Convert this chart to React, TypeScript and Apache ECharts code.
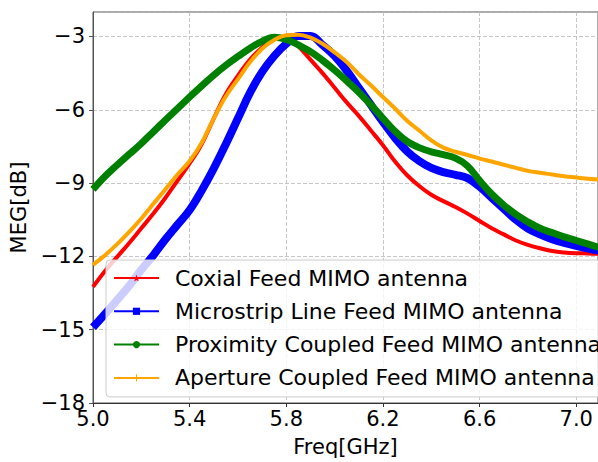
import React, { useEffect, useRef } from 'react';
import * as echarts from 'echarts';

const freq = [
  5.0, 5.05, 5.1, 5.15, 5.2, 5.25, 5.3, 5.35, 5.4, 5.45, 5.5, 5.55, 5.6, 5.65, 5.7, 5.75, 5.8, 5.85, 5.9, 5.95,
  6.0, 6.05, 6.1, 6.15, 6.2, 6.25, 6.3, 6.35, 6.4, 6.45, 6.5, 6.55, 6.6, 6.65, 6.7, 6.75, 6.8, 6.85, 6.9, 6.95,
  7.0, 7.05, 7.1,
];

const coxial = [
  -13.25, -12.6, -12.02, -11.45, -10.85, -10.25, -9.6, -8.9, -8.2, -7.4, -6.35, -5.35, -4.6, -3.95, -3.45, -3.1, -3.0, -3.4, -3.95, -4.5,
  -5.1, -5.7, -6.25, -6.85, -7.45, -8.12, -8.68, -9.12, -9.48, -9.74, -9.98, -10.25, -10.55, -10.85, -11.1, -11.35, -11.53, -11.67, -11.78, -11.84,
  -11.87, -11.88, -11.9,
];

const microstrip = [
  -14.9, -14.35, -13.78, -13.2, -12.55, -11.95, -11.3, -10.7, -10.1, -9.3, -8.4, -7.4, -6.35, -5.3, -4.45, -3.8, -3.3, -2.98, -2.98, -3.35,
  -3.8, -4.4, -5.1, -5.8, -6.5, -7.15, -7.7, -8.1, -8.38, -8.55, -8.66, -8.8, -9.15, -9.6, -10.05, -10.5, -10.86, -11.1, -11.3, -11.45,
  -11.57, -11.68, -11.78,
];

const proximity = [
  -9.26, -8.72, -8.26, -7.82, -7.38, -6.9, -6.42, -5.95, -5.48, -5.02, -4.58, -4.18, -3.82, -3.48, -3.2, -3.03, -3.12, -3.35, -3.62, -3.98,
  -4.38, -4.82, -5.28, -5.8, -6.35, -6.88, -7.3, -7.55, -7.72, -7.84, -7.98, -8.3, -8.9, -9.45, -9.9, -10.28, -10.59, -10.85, -11.03, -11.2,
  -11.35, -11.5, -11.65,
];

const aperture = [
  -12.35, -11.95, -11.5, -11.0, -10.45, -9.85, -9.25, -8.65, -8.1, -7.35, -6.35, -5.45, -4.75, -4.05, -3.5, -3.15, -2.95, -2.93, -3.05, -3.3,
  -3.65, -4.05, -4.55, -5.0, -5.48, -5.95, -6.45, -6.85, -7.25, -7.55, -7.72, -7.85, -8.0, -8.12, -8.25, -8.38, -8.5, -8.58, -8.65, -8.72,
  -8.77, -8.82, -8.86,
];

const seriesNames = [
  'Coxial Feed MIMO antenna',
  'Microstrip Line Feed MIMO antenna',
  'Proximity Coupled Feed MIMO antenna',
  'Aperture Coupled Feed MIMO antenna',
];

const starPath = 'path://M5,0 L6.2,3.6 L10,3.6 L7,5.9 L8.1,9.5 L5,7.3 L1.9,9.5 L3,5.9 L0,3.6 L3.8,3.6 Z';
const plusPath = 'path://M4.3,0 H5.7 V4.3 H10 V5.7 H5.7 V10 H4.3 V5.7 H0 V4.3 H4.3 Z';

const FONT = 'DejaVu Sans';

export default function App() {
  const ref = useRef<HTMLDivElement>(null);

  useEffect(() => {
    if (!ref.current) return;
    const chart = echarts.init(ref.current, null, { renderer: 'svg' });
    const mk = (vals: number[]) => freq.map((f, i) => [f, vals[i]]);
    const common = {
      type: 'line',
      showSymbol: false,
      smooth: 0.4,
      clip: true,
    };
    chart.setOption({
      animation: false,
      textStyle: { fontFamily: FONT },
      grid: {
        left: 93,
        top: 12,
        right: -2,
        bottom: 54,
        show: true,
        borderColor: '#555',
        borderWidth: 1,
        backgroundColor: 'transparent',
      },
      xAxis: {
        type: 'value',
        min: 5.0,
        max: 7.09,
        interval: 0.4,
        name: 'Freq[GHz]',
        nameLocation: 'middle',
        nameGap: 33,
        nameTextStyle: { fontSize: 21, color: '#000', fontFamily: FONT },
        axisLine: { show: true, onZero: false, lineStyle: { color: '#333', width: 1 } },
        axisTick: { show: true, inside: false, length: 4, lineStyle: { color: '#333' } },
        axisLabel: {
          fontSize: 21,
          color: '#000',
          margin: 5,
          showMaxLabel: false,
          fontFamily: FONT,
          formatter: (v: number) => v.toFixed(1),
        },
        splitLine: { show: true, lineStyle: { color: '#b8b8b8', type: [4, 2], width: 0.8 } },
      },
      yAxis: {
        type: 'value',
        min: -18,
        max: -2,
        interval: 3,
        name: 'MEG[dB]',
        nameLocation: 'middle',
        nameGap: 56,
        nameTextStyle: { fontSize: 21, color: '#000', fontFamily: FONT, padding: [0, 0, 0, 0] },
        axisLine: { show: true, onZero: false, lineStyle: { color: '#555', width: 1 } },
        axisTick: { show: true, inside: false, length: 4, lineStyle: { color: '#555' } },
        axisLabel: {
          fontSize: 21,
          color: '#000',
          margin: 8,
          showMaxLabel: false,
          fontFamily: FONT,
          formatter: (v: number) => String(v).replace('-', '\u2212'),
        },
        splitLine: { show: true, lineStyle: { color: '#b8b8b8', type: [4, 2], width: 0.8 } },
      },
      legend: {
        orient: 'vertical',
        left: 106,
        top: 260,
        padding: [6, 12, 7, 7],
        itemWidth: 45,
        itemHeight: 9,
        itemGap: 9.3,
        backgroundColor: 'rgba(255,255,255,0.8)',
        borderColor: '#cccccc',
        borderWidth: 1,
        borderRadius: 4,
        lineStyle: { width: 2 },
        textStyle: {
          fontSize: 22,
          color: '#000',
          fontFamily: FONT,
          lineHeight: 24,
          padding: [0, 0, 0, 11],
        },
        data: seriesNames,
      },
      series: [
        {
          ...common,
          name: seriesNames[0],
          data: mk(coxial),
          symbol: starPath,
          color: '#ff0000',
          lineStyle: { color: '#ff0000', width: 4 },
        },
        {
          ...common,
          name: seriesNames[1],
          data: mk(microstrip),
          symbol: 'rect',
          color: '#0000ff',
          lineStyle: { color: '#0000ff', width: 8 },
        },
        {
          ...common,
          name: seriesNames[2],
          data: mk(proximity),
          symbol: 'circle',
          color: '#008000',
          lineStyle: { color: '#008000', width: 7 },
        },
        {
          ...common,
          name: seriesNames[3],
          data: mk(aperture),
          symbol: plusPath,
          color: '#ffa500',
          lineStyle: { color: '#ffa500', width: 4 },
        },
      ],
    });
    return () => chart.dispose();
  }, []);

  return (
    <div
      ref={ref}
      style={{ width: 598, height: 462, position: 'absolute', left: 0, top: 0 }}
    />
  );
}
